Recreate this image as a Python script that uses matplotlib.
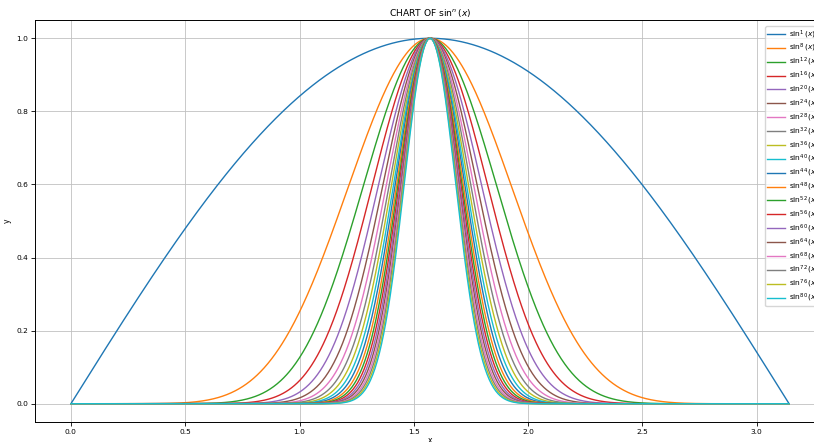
import numpy as np
import matplotlib
matplotlib.use("Agg")
import matplotlib.pyplot as plt

exponents = [1, 8, 12, 16, 20, 24, 28, 32, 36, 40, 44, 48, 52, 56, 60, 64, 68, 72, 76, 80]
x_start, x_end = 0.0, np.pi

W, H = 814, 442
fig = plt.figure(figsize=(W / 100, H / 100), dpi=100)
ax = fig.add_axes([35 / W, (H - 422) / H, 790 / W, 402 / H])

x = np.linspace(x_start, x_end, 1000)
for n in exponents:
    ax.plot(x, np.sin(x) ** n, lw=1.0, label=r"$\sin^{%d}(x)$" % n)

ax.set_title(r"CHART OF $\sin^n(x)$", fontsize=6.6, pad=3)
ax.set_xlabel("x", fontsize=5.5, labelpad=0.5)
ax.set_ylabel("y", fontsize=5.5, labelpad=3)
ax.tick_params(labelsize=5.4, length=3, width=0.6, pad=2)
for s in ax.spines.values():
    s.set_linewidth(0.7)
ax.grid(True, color="#c0c0c0", lw=0.6)
ax.legend(loc="upper left", bbox_to_anchor=(765 / W, 1 - 26 / H),
          bbox_transform=fig.transFigure, borderaxespad=0,
          fontsize=5.4, labelspacing=0.21, handlelength=2.3,
          handletextpad=0.6, borderpad=0.3, frameon=True)

fig.savefig("out.png", dpi=100)
